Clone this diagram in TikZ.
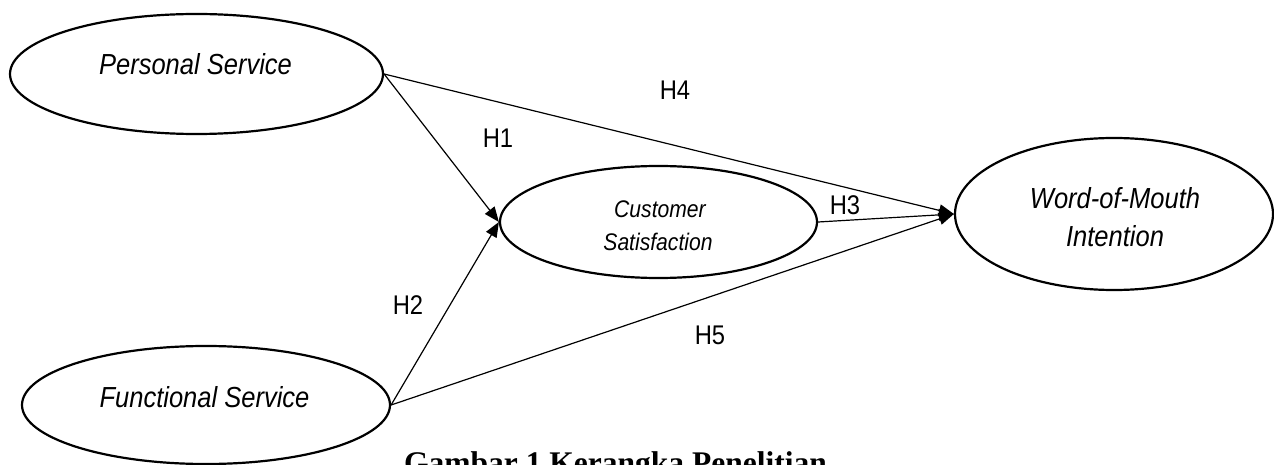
\documentclass[tikz,border=0pt]{standalone}
\usepackage{fontspec}
\usetikzlibrary{shapes.geometric,arrows.meta}
\newfontfamily\narrowsans[FakeStretch=0.88]{Liberation Sans}
\newfontfamily\capserif{Liberation Serif}
\begin{document}
\begin{tikzpicture}[x=1pt,y=-1pt,
  ell/.style={draw,ellipse,line width=2.2pt,inner sep=0pt},
  arr/.style={line width=1.2pt,-{Triangle[length=15pt,width=12pt]}},
  bigtxt/.style={font=\narrowsans\itshape\fontsize{29}{34}\selectfont,anchor=base,inner sep=0pt},
  smalltxt/.style={font=\narrowsans\itshape\fontsize{24}{28}\selectfont,anchor=base,inner sep=0pt},
  hlab/.style={font=\narrowsans\fontsize{27}{32}\selectfont,inner sep=0pt}]
\useasboundingbox (0,0) rectangle (1274,465);
\clip (0,0) rectangle (1274,465);
\fill[white] (0,0) rectangle (1274,465);
% ellipses
\node[ell,minimum width=373pt,minimum height=120pt] (ps) at (196.5,74) {};
\node[ell,minimum width=368pt,minimum height=118pt] (fs) at (206,405) {};
\node[ell,minimum width=317pt,minimum height=112pt] (cs) at (658.5,222) {};
\node[ell,minimum width=318pt,minimum height=152pt] (wom) at (1114,214) {};
% texts
\node[bigtxt] (pst) at (195.5,75) {Personal Service};
\node[bigtxt] (fst) at (204.5,407) {Functional Service};
\node[smalltxt] (cst1) at (660,218) {Customer};
\node[smalltxt] (cst2) at (658,250) {Satisfaction};
\node[bigtxt] (wt1) at (1115,208) {Word-of-Mouth};
\node[bigtxt] (wt2) at (1115,247) {Intention};
% connectors
\draw[arr] (ps.east) -- (cs.west);
\draw[arr] (fs.east) -- (cs.west);
\draw[arr] (ps.east) -- (wom.west);
\draw[arr] (cs.east) -- (wom.west);
\draw[arr] (fs.east) -- (wom.west);
% labels
\node[hlab] (h1) at (498,138) {H1};
\node[hlab] (h2) at (408,305) {H2};
\node[hlab] (h3) at (845,205) {H3};
\node[hlab] (h4) at (675,90) {H4};
\node[hlab] (h5) at (710,335) {H5};
% caption
\node[font=\capserif\bfseries\fontsize{31.5}{36}\selectfont,anchor=base east,inner sep=0pt] (cap) at (827,473) {Gambar 1 Kerangka Penelitian};
\end{tikzpicture}
\end{document}
